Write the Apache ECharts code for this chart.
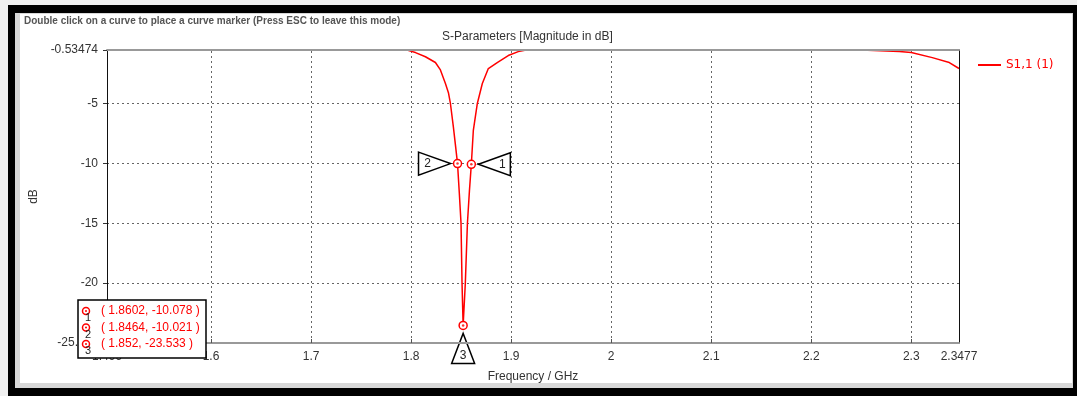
<!DOCTYPE html>
<html>
<head>
<meta charset="utf-8">
<script src="https://cdn.jsdelivr.net/npm/echarts@6/dist/echarts.min.js"></script>
<style>
  html, body { margin: 0; padding: 0; background: #f0f0f0; }
  #chart { width: 1077px; height: 396px; }
</style>
</head>
<body>
<div id="chart"></div>
<script>
// S1,1 magnitude [dB] vs frequency [GHz]
const freq = [
    1.496, 1.55, 1.60, 1.65, 1.70, 1.75, 1.796, 1.8044, 1.8143, 1.8243,
    1.8293, 1.8343, 1.8373, 1.8393, 1.8423, 1.8445, 1.8464, 1.8482, 1.8499, 1.8509,
    1.852, 1.8542, 1.8563, 1.8583, 1.8602, 1.8622, 1.8662, 1.8712, 1.8772, 1.8861,
    1.8971, 1.9071, 1.915, 1.95, 2.00, 2.05, 2.10, 2.15, 2.20, 2.25,
    2.288, 2.30, 2.321, 2.338, 2.3477
];
const s11 = [
    -0.545, -0.54, -0.54, -0.537, -0.537, -0.54, -0.545, -0.75, -1.1, -1.58,
    -2.2, -3.33, -4.1, -5.0, -7.0, -8.6, -10.021, -12.5, -15.0, -20.0,
    -23.533, -20.0, -15.0, -12.3, -10.078, -7.25, -5.0, -3.33, -2.08, -1.58,
    -1.0, -0.67, -0.545, -0.54, -0.537, -0.535, -0.535, -0.537, -0.54, -0.545,
    -0.65, -0.75, -1.17, -1.58, -2.08
];

// curve markers
const markerIds = ['1', '2', '3'];
const markerFreq = [1.8602, 1.8464, 1.852];
const markerDb = [-10.078, -10.021, -23.533];

// axis ticks
const xTicks = [1.6, 1.7, 1.8, 1.9, 2.0, 2.1, 2.2, 2.3];
const xLabels = [1.496, 1.6, 1.7, 1.8, 1.9, 2.0, 2.1, 2.2, 2.3, 2.3477];
const yTicks = [-20, -15, -10, -5];
const yLabels = [-25, -20, -15, -10, -5, -0.53474];

const xMin = 1.496, xMax = 2.3477;
const yMin = -25, yMax = -0.53474;

const font = 'Liberation Sans';
const red = '#ff0000';
const textColor = '#333333';

const chart = echarts.init(document.getElementById('chart'));

// which side of the point each marker flag sits on
const flagSide = { '1': 'right', '2': 'left', '3': 'below' };

function renderFlag(params, api) {
    const id = markerIds[params.dataIndex];
    const p = api.coord([api.value(0), api.value(1)]);
    let pts, tx, ty;
    const side = flagSide[id];
    if (side === 'left') {
        const tip = p[0] - 7;
        pts = [[tip - 32, p[1] - 11.5], [tip, p[1]], [tip - 32, p[1] + 11.5]];
        tx = tip - 23; ty = p[1];
    } else if (side === 'right') {
        const tip = p[0] + 7;
        pts = [[tip + 32, p[1] - 11.5], [tip, p[1]], [tip + 32, p[1] + 11.5]];
        tx = tip + 24; ty = p[1];
    } else {
        const tip = p[1] + 8;
        pts = [[p[0] - 11.5, tip + 30], [p[0], tip], [p[0] + 11.5, tip + 30]];
        tx = p[0]; ty = tip + 22;
    }
    return {
        type: 'group',
        children: [
            {
                type: 'polygon', z2: 1,
                shape: { points: pts },
                style: { fill: '#ffffff', stroke: '#000000', lineWidth: 1.5 }
            },
            {
                type: 'text', z2: 2,
                style: {
                    text: id, x: tx, y: ty, align: 'center', verticalAlign: 'middle',
                    font: '12px ' + font, fill: '#222222'
                }
            }
        ]
    };
}

// marker readout box (bottom-left)
const boxChildren = [{
    type: 'rect', z: 100,
    shape: { x: 78, y: 300, width: 128, height: 58 },
    style: { fill: '#ffffff', stroke: '#000000', lineWidth: 1.5 }
}];
markerIds.forEach((id, i) => {
    const cy = 311 + i * 16.5;
    boxChildren.push(
        { type: 'circle', z: 101, shape: { cx: 86, cy: cy, r: 3.5 }, style: { fill: '#fff', stroke: red, lineWidth: 1.5 } },
        { type: 'circle', z: 101, shape: { cx: 86, cy: cy, r: 1 }, style: { fill: red } },
        { type: 'text', z: 101, style: { text: id, x: 88, y: cy + 7, align: 'center', verticalAlign: 'middle', font: '11px ' + font, fill: '#222' } },
        { type: 'text', z: 101, style: {
            text: '( ' + markerFreq[i] + ', ' + markerDb[i].toFixed(3) + ' )',
            x: 101, y: cy, verticalAlign: 'middle', font: '12px ' + font, fill: red
        } }
    );
});

const markerData = markerFreq.map((f, i) => [f, markerDb[i]]);

const option = {
    backgroundColor: '#ffffff',
    animation: false,
    title: {
        text: 'S-Parameters [Magnitude in dB]',
        left: 437, top: 26,
        textStyle: { fontFamily: font, fontSize: 12, fontWeight: 'normal', color: textColor }
    },
    legend: {
        left: 973, top: 54,
        itemWidth: 23, itemHeight: 2, icon: 'rect', itemGap: 5,
        textStyle: { fontFamily: 'DejaVu Sans', fontSize: 12, color: red },
        data: ['S1,1 (1)']
    },
    grid: { left: 107, right: 118, top: 50, bottom: 53 },
    xAxis: [
        {
            type: 'value', min: xMin, max: xMax, z: 10,
            name: 'Frequency / GHz', nameLocation: 'middle', nameGap: 28,
            nameTextStyle: { fontFamily: font, fontSize: 12, color: textColor },
            axisLine: { onZero: false, lineStyle: { color: '#999999', width: 2 } },
            axisTick: { inside: true, length: 4, customValues: xTicks, lineStyle: { color: '#555' } },
            axisLabel: {
                customValues: xLabels, margin: 8,
                fontFamily: font, fontSize: 12, color: textColor,
                formatter: v => String(v)
            },
            splitLine: { show: false }
        },
        {
            type: 'value', min: xMin, max: xMax, position: 'top', z: 10,
            axisLine: { onZero: false, lineStyle: { color: '#999999', width: 2 } },
            axisTick: { show: false }, axisLabel: { show: false }, splitLine: { show: false }
        }
    ],
    yAxis: [
        {
            type: 'value', min: yMin, max: yMax, z: 10,
            name: 'dB', nameLocation: 'middle', nameGap: 64, nameRotate: 90,
            nameTextStyle: { fontFamily: font, fontSize: 12, color: textColor },
            axisLine: { show: true, onZero: false, lineStyle: { color: '#111111', width: 1 } },
            axisTick: { show: true, length: 4, customValues: yLabels, lineStyle: { color: '#333' } },
            axisLabel: {
                customValues: yLabels, margin: 9,
                fontFamily: font, fontSize: 12, color: textColor,
                formatter: v => (v === yMin ? v.toFixed(3) : String(v))
            },
            splitLine: { show: false }
        },
        {
            type: 'value', min: yMin, max: yMax, position: 'right', z: 10,
            axisLine: { show: true, onZero: false, lineStyle: { color: '#111111', width: 1 } },
            axisTick: { show: false }, axisLabel: { show: false }, splitLine: { show: false }
        }
    ],
    series: [
        {
            // dotted grid
            type: 'line', data: [], silent: true, z: 1,
            markLine: {
                silent: true, symbol: 'none', label: { show: false }, z: 1,
                lineStyle: { color: '#666666', type: [2, 3], width: 1 },
                emphasis: { disabled: true },
                data: xTicks.map(v => ({ xAxis: v })).concat(yTicks.map(v => ({ yAxis: v })))
            }
        },
        {
            name: 'S1,1 (1)', type: 'line', z: 3,
            data: freq.map((f, i) => [f, s11[i]]),
            symbol: 'none', smooth: false, clip: true,
            lineStyle: { color: red, width: 1.5 },
            itemStyle: { color: red }
        },
        {
            type: 'custom', z: 4, silent: true,
            data: markerData,
            renderItem: renderFlag,
            clip: false
        },
        {
            type: 'scatter', z: 5, silent: true,
            data: markerData,
            symbol: 'circle', symbolSize: 8,
            itemStyle: { color: '#ffffff', borderColor: red, borderWidth: 1.5, opacity: 1 }
        },
        {
            type: 'scatter', z: 6, silent: true,
            data: markerData,
            symbol: 'circle', symbolSize: 2.5,
            itemStyle: { color: red }
        }
    ],
    graphic: [
        // window frame
        { type: 'rect', z: -10, shape: { x: 0, y: 0, width: 1077, height: 396 }, style: { fill: '#f0f0f0' } },
        { type: 'rect', z: -9, shape: { x: 8, y: 5, width: 1069, height: 391 }, style: { fill: '#000000' } },
        { type: 'rect', z: -8, shape: { x: 15, y: 13, width: 1058, height: 375 }, style: { fill: '#d8d8d8' } },
        { type: 'rect', z: -7, shape: { x: 20, y: 14, width: 1052, height: 369 }, style: { fill: '#ffffff' } },
        {
            type: 'text', left: 24, top: 16,
            style: {
                text: 'Double click on a curve to place a curve marker (Press ESC to leave this mode)',
                font: 'bold 10px ' + font, fill: '#555555'
            }
        }
    ].concat(boxChildren)
};

chart.setOption(option);
</script>
</body>
</html>
